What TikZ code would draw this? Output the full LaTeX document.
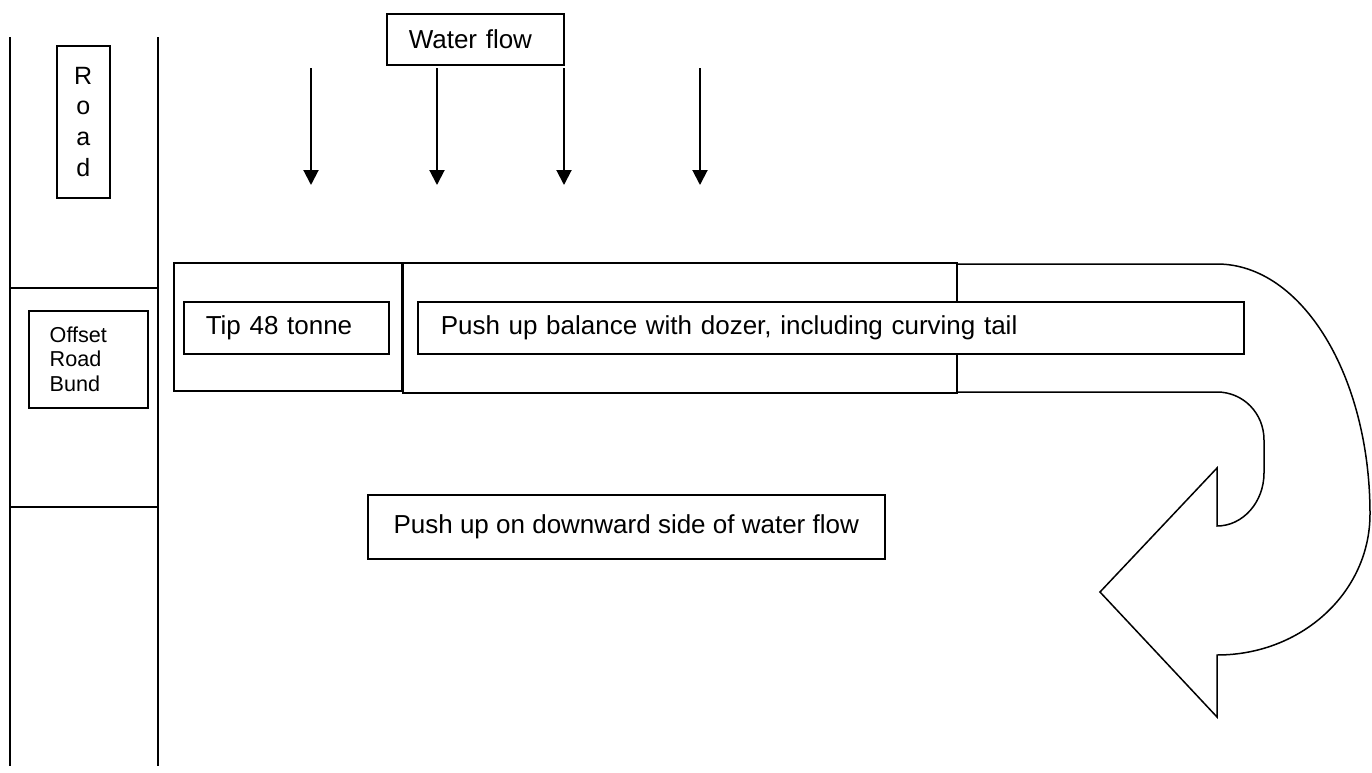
\documentclass[tikz,border=0pt]{standalone}
\usepackage{fontspec}
\setmainfont{Liberation Sans}
\usetikzlibrary{arrows.meta}
\begin{document}
\begin{tikzpicture}[x=0.5pt,y=-0.5pt,line width=0.75pt,
  tbox/.style={draw,fill=white,anchor=north west,inner xsep=11pt,inner ysep=0pt,align=left,font=\fontsize{13}{15}\selectfont},
  flow/.style={line width=1pt,-{Triangle[length=7.5pt,width=7.5pt]}}]
\useasboundingbox (0,0) rectangle (1372,772);
% road strip
\draw[line width=1pt] (10,37) -- (10,766) (158,37) -- (158,766);
\draw (10,288) -- (158,288) (10,507) -- (158,507);
\node[tbox,align=center,inner xsep=0pt,minimum width=26.5pt,minimum height=76pt,font=\fontsize{12.5}{15.3}\selectfont] (road) at (56,45) {R\\o\\a\\d};
\node[tbox,inner xsep=10.5pt,text width=38.5pt,minimum height=48.5pt,font=\fontsize{10.8}{12.4}\selectfont] (bund) at (28,310) {Offset\\Road\\Bund};
% water flow
\node[tbox,text width=66.5pt,minimum height=25.5pt] (water) at (386,13) {Water flow};
\foreach \x in {311,437,564,700}
  \draw[flow] (\x,68) -- (\x,185);
% tipping area and curving tail
\draw (174,263) rectangle (402,391);
\draw (403,263) rectangle (957,393);
\draw (957,392) -- (1217,392) .. controls (1243,392) and (1264,413) .. (1264,440)
  -- (1264,473) .. controls (1264,502) and (1243,526) .. (1217,526)
  -- (1217,468) -- (1100,592) -- (1217,717) -- (1217,655)
  .. controls (1302,655) and (1370,592) .. (1370,514)
  .. controls (1370,376) and (1302,264) .. (1217,264) -- (957,264);
\node[tbox,text width=80.5pt,minimum height=26pt] (tip) at (183,301) {Tip 48 tonne};
\node[tbox,inner xsep=11.5pt,text width=390pt,minimum height=26pt] (balance) at (417,301) {Push up balance with dozer, including curving tail};
\node[tbox,inner xsep=0pt,minimum width=258.5pt,minimum height=32pt] (downward) at (367,494) {Push up on downward side of water flow};
\end{tikzpicture}
\end{document}
